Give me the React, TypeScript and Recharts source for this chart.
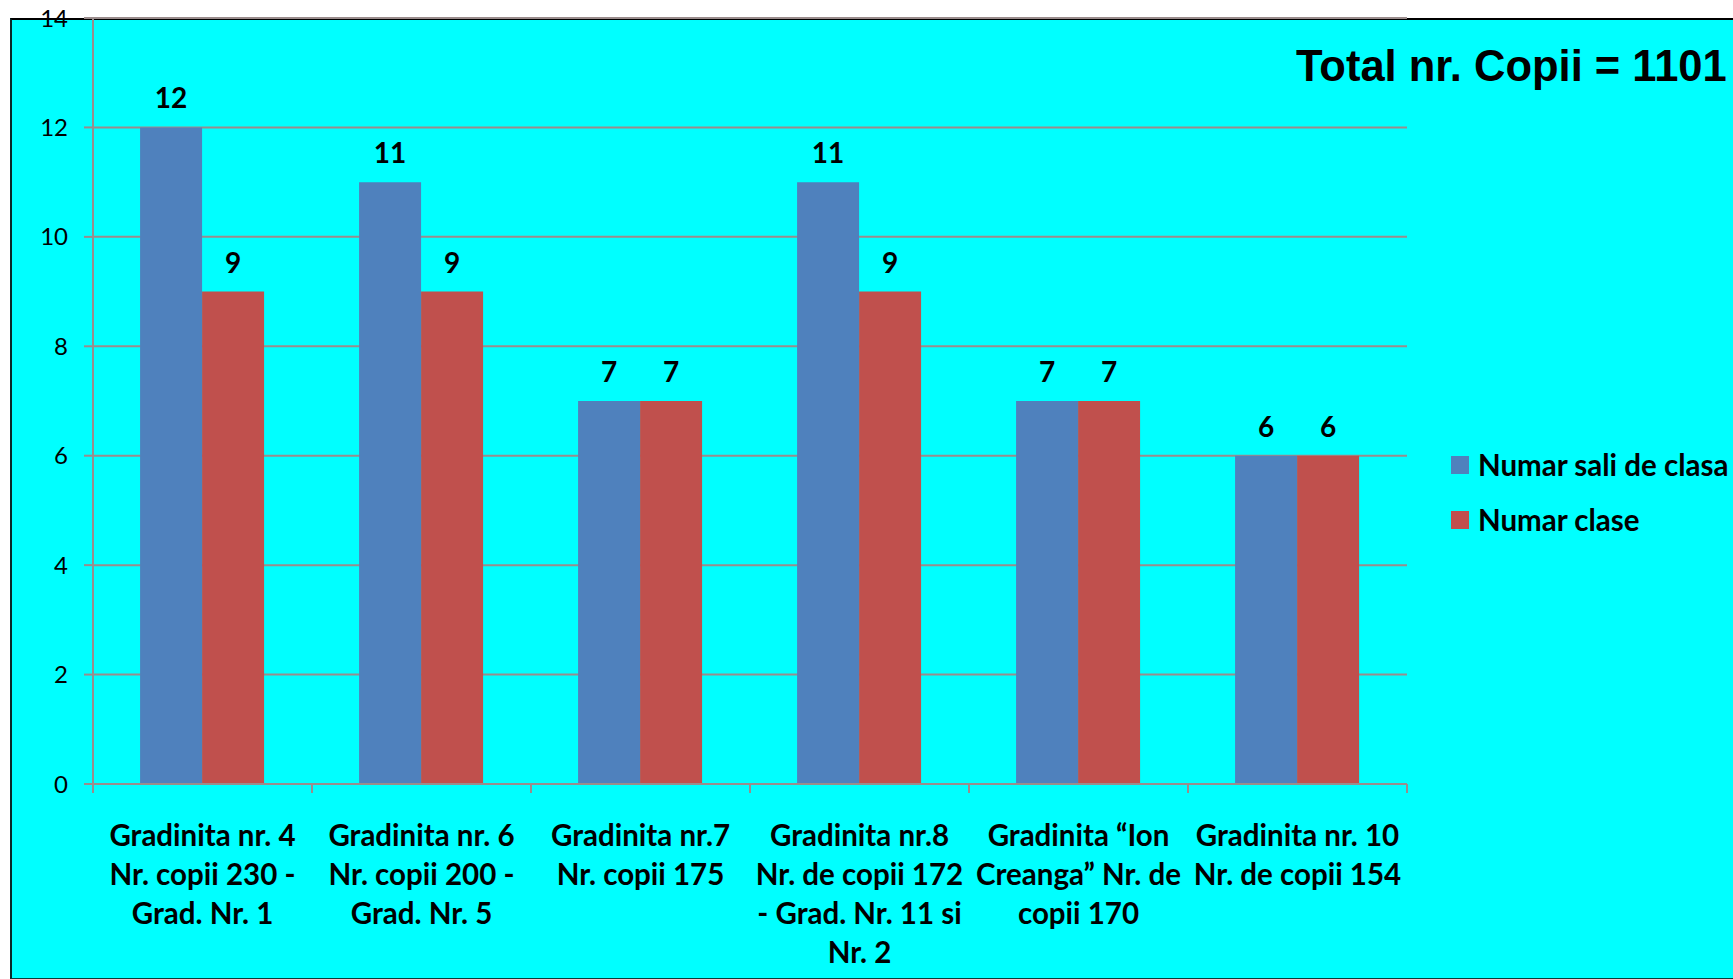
import React from "react";
import { BarChart, Bar, XAxis, YAxis, CartesianGrid, LabelList } from "recharts";

const categoryLines: string[][] = [
  ["Gradinita nr. 4", "Nr. copii 230 -", "Grad. Nr. 1"],
  ["Gradinita nr. 6", "Nr. copii 200 -", "Grad. Nr. 5"],
  ["Gradinita nr.7", "Nr. copii 175"],
  ["Gradinita nr.8", "Nr. de copii 172", "- Grad. Nr. 11 si", "Nr. 2"],
  ["Gradinita \u201cIon", "Creanga\u201d Nr. de", "copii 170"],
  ["Gradinita nr. 10", "Nr. de copii 154"],
];
const saliDeClasa: number[] = [12, 11, 7, 11, 7, 6];
const numarClase: number[] = [9, 9, 7, 9, 7, 6];
const yTicks: number[] = [0, 2, 4, 6, 8, 10, 12, 14];
const seriesNames = ["Numar sali de clasa", "Numar clase"];
const titleText = "Total nr. Copii = 1101";

const data = categoryLines.map((lines, i) => ({
  name: lines.join(" "),
  idx: i,
  sali: saliDeClasa[i],
  clase: numarClase[i],
}));

const GRID = "#9a8c8c";
const BLUE = "#4F81BD";
const RED = "#C0504D";
const FONT = "Lato, 'Open Sans', sans-serif";

const XTick = (props: any) => {
  const { x, y, payload, index } = props;
  const half = payload && payload.offset ? payload.offset : 109.5;
  const i0 = payload.index ?? index;
  const lines = categoryLines[i0] || [];
  const isLast = i0 === categoryLines.length - 1;
  return (
    <g>
      <line x1={x - half} x2={x - half} y1={y - 8} y2={y + 1} stroke={GRID} strokeWidth={2} />
      {isLast && (
        <line x1={x + half} x2={x + half} y1={y - 8} y2={y + 1} stroke={GRID} strokeWidth={2} />
      )}
      {lines.map((l, i) => (
        <text
          key={i}
          x={x}
          y={y + 42 + i * 39.3}
          textAnchor="middle"
          dominantBaseline="central"
          fontFamily={FONT}
          fontWeight={700}
          fontSize={29.5}
          fill="#000"
        >
          {l}
        </text>
      ))}
    </g>
  );
};

export default function App() {
  return (
    <div style={{ position: "absolute", left: 0, top: 0, width: 1733, height: 979, background: "#fff", overflow: "hidden" }}>
      <div
        style={{
          position: "absolute",
          left: 10,
          top: 18,
          width: 1730,
          height: 958,
          background: "#00FFFF",
          borderLeft: "2px solid #0a2a2a",
          borderTop: "2px solid #000",
          borderBottom: "2px solid #0a3a3a",
        }}
      />
      <div
        style={{
          position: "absolute",
          left: 1296,
          top: 45,
          fontFamily: "'Liberation Sans', Arial, sans-serif",
          fontWeight: 700,
          fontSize: 43.5,
          lineHeight: 1,
          whiteSpace: "nowrap",
          color: "#000",
        }}
      >
        {titleText}
      </div>
      <div
        style={{
          position: "absolute",
          left: 1451,
          top: 437,
          fontFamily: FONT,
          fontWeight: 700,
          fontSize: 29.5,
          color: "#000",
        }}
      >
        {[BLUE, RED].map((c, i) => (
          <div key={i} style={{ display: "flex", alignItems: "center", height: 55, whiteSpace: "nowrap" }}>
            <div style={{ width: 18, height: 18, background: c, marginRight: 9, flex: "none" }} />
            <span>{seriesNames[i]}</span>
          </div>
        ))}
      </div>
      <div style={{ position: "absolute", left: 0, top: 0 }}>
        <BarChart
          width={1733}
          height={979}
          data={data}
          margin={{ top: 18, right: 326, bottom: 0, left: 0 }}
          barCategoryGap="21.5%"
          barGap={0}
        >
          <CartesianGrid vertical={false} stroke={GRID} strokeWidth={2} />
          <XAxis
            dataKey="name"
            height={195}
            axisLine={{ stroke: GRID, strokeWidth: 2 }}
            tickLine={false}
            tick={<XTick />}
            interval={0}
          />
          <YAxis
            width={93}
            domain={[0, 14]}
            ticks={yTicks}
            interval={0}
            axisLine={{ stroke: GRID, strokeWidth: 2 }}
            tickLine={{ stroke: GRID, strokeWidth: 2 }}
            tickSize={9}
            tick={{ fontFamily: FONT, fontSize: 24, fill: "#000" }}
            tickMargin={16}
          />
          <Bar dataKey="sali" name={seriesNames[0]} fill={BLUE} isAnimationActive={false}>
            <LabelList
              dataKey="sali"
              position="top"
              offset={19}
              style={{ fontFamily: FONT, fontWeight: 700, fontSize: 28, fill: "#000" }}
            />
          </Bar>
          <Bar dataKey="clase" name={seriesNames[1]} fill={RED} isAnimationActive={false}>
            <LabelList
              dataKey="clase"
              position="top"
              offset={19}
              style={{ fontFamily: FONT, fontWeight: 700, fontSize: 28, fill: "#000" }}
            />
          </Bar>
        </BarChart>
      </div>
    </div>
  );
}
